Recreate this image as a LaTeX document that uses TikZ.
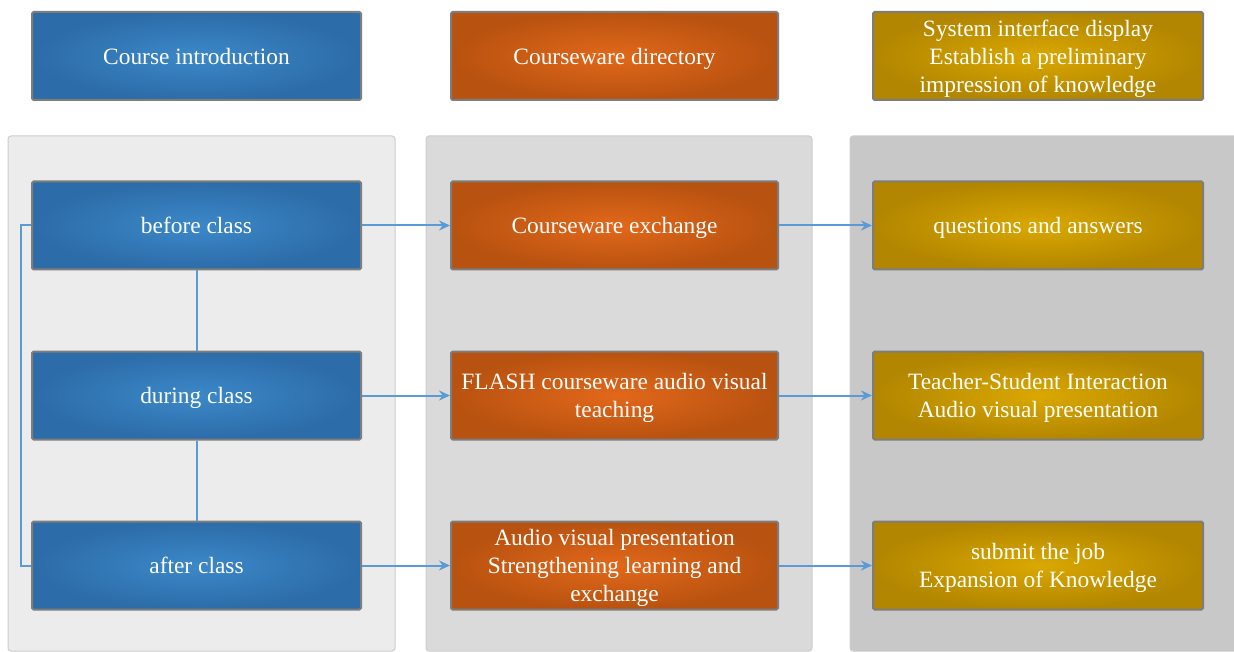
\documentclass[tikz,border=0pt]{standalone}
\usepackage{fontspec}
\setmainfont{Liberation Serif}
\usetikzlibrary{arrows.meta}
\definecolor{bluein}{RGB}{60,136,200}
\definecolor{blueout}{RGB}{44,108,168}
\definecolor{orin}{RGB}{226,104,26}
\definecolor{orout}{RGB}{184,82,16}
\definecolor{goin}{RGB}{218,168,0}
\definecolor{goout}{RGB}{178,134,0}
\definecolor{panA}{RGB}{236,236,236}
\definecolor{panB}{RGB}{218,218,218}
\definecolor{panC}{RGB}{200,200,200}
\definecolor{pedge}{RGB}{205,205,205}
\definecolor{boxedge}{RGB}{125,125,125}
\definecolor{link}{RGB}{91,155,213}
\begin{document}
\begin{tikzpicture}[x=1pt,y=-1pt,
  box/.style={draw=boxedge, line width=2pt, rounded corners=1.5pt, minimum height=88pt,
    text=white, align=center, font=\fontsize{23.4}{28}\selectfont, inner sep=2pt, text depth=0pt},
  bluebox/.style={box, minimum width=329pt, inner color=bluein, outer color=blueout},
  orbox/.style={box, minimum width=327pt, inner color=orin, outer color=orout},
  gobox/.style={box, minimum width=330pt, inner color=goin, outer color=goout},
  panel/.style={draw=pedge, line width=1pt, rounded corners=3pt},
  link/.style={draw=link, line width=2pt},
  arr/.style={link, -{Stealth[length=11pt,width=10pt]}}
]
\useasboundingbox (0,0) rectangle (1234,652);
\fill[white] (0,0) rectangle (1234,652);
% panels
\path[panel, fill=panA] (8,136) rectangle (395,651);
\path[panel, fill=panB] (426,136) rectangle (812,651);
\path[panel, fill=panC] (850,136) rectangle (1240,651);
% top row
\node[bluebox] (ci) at (196.5,56) {Course introduction};
\node[orbox] (cd) at (614.5,56) {Courseware directory};
\node[gobox] (sd) at (1038,56) {System interface display\\Establish a preliminary\\impression of knowledge};
% rows
\node[bluebox] (bc) at (196.5,225.5) {before class};
\node[bluebox] (dc) at (196.5,395.5) {during class};
\node[bluebox] (ac) at (196.5,565.5) {after class};
\node[orbox] (ce) at (614.5,225.5) {Courseware exchange};
\node[orbox] (fl) at (614.5,395.5) {FLASH courseware audio visual\\teaching};
\node[orbox] (av) at (614.5,565.5) {Audio visual presentation\\Strengthening learning and\\exchange};
\node[gobox] (qa) at (1038,225.5) {questions and answers};
\node[gobox] (ts) at (1038,395.5) {Teacher-Student Interaction\\Audio visual presentation};
\node[gobox] (sj) at (1038,565.5) {submit the job\\Expansion of Knowledge};
% connectors
\draw[link] (bc.south) -- (dc.north);
\draw[link] (dc.south) -- (ac.north);
\coordinate (lc) at (21,225.5);
\draw[link] (bc.west) -- (lc) |- (ac.west);
\draw[arr] (bc.east) -- (ce.west);
\draw[arr] (dc.east) -- (fl.west);
\draw[arr] (ac.east) -- (av.west);
\draw[arr] (ce.east) -- (qa.west);
\draw[arr] (fl.east) -- (ts.west);
\draw[arr] (av.east) -- (sj.west);
\end{tikzpicture}
\end{document}
